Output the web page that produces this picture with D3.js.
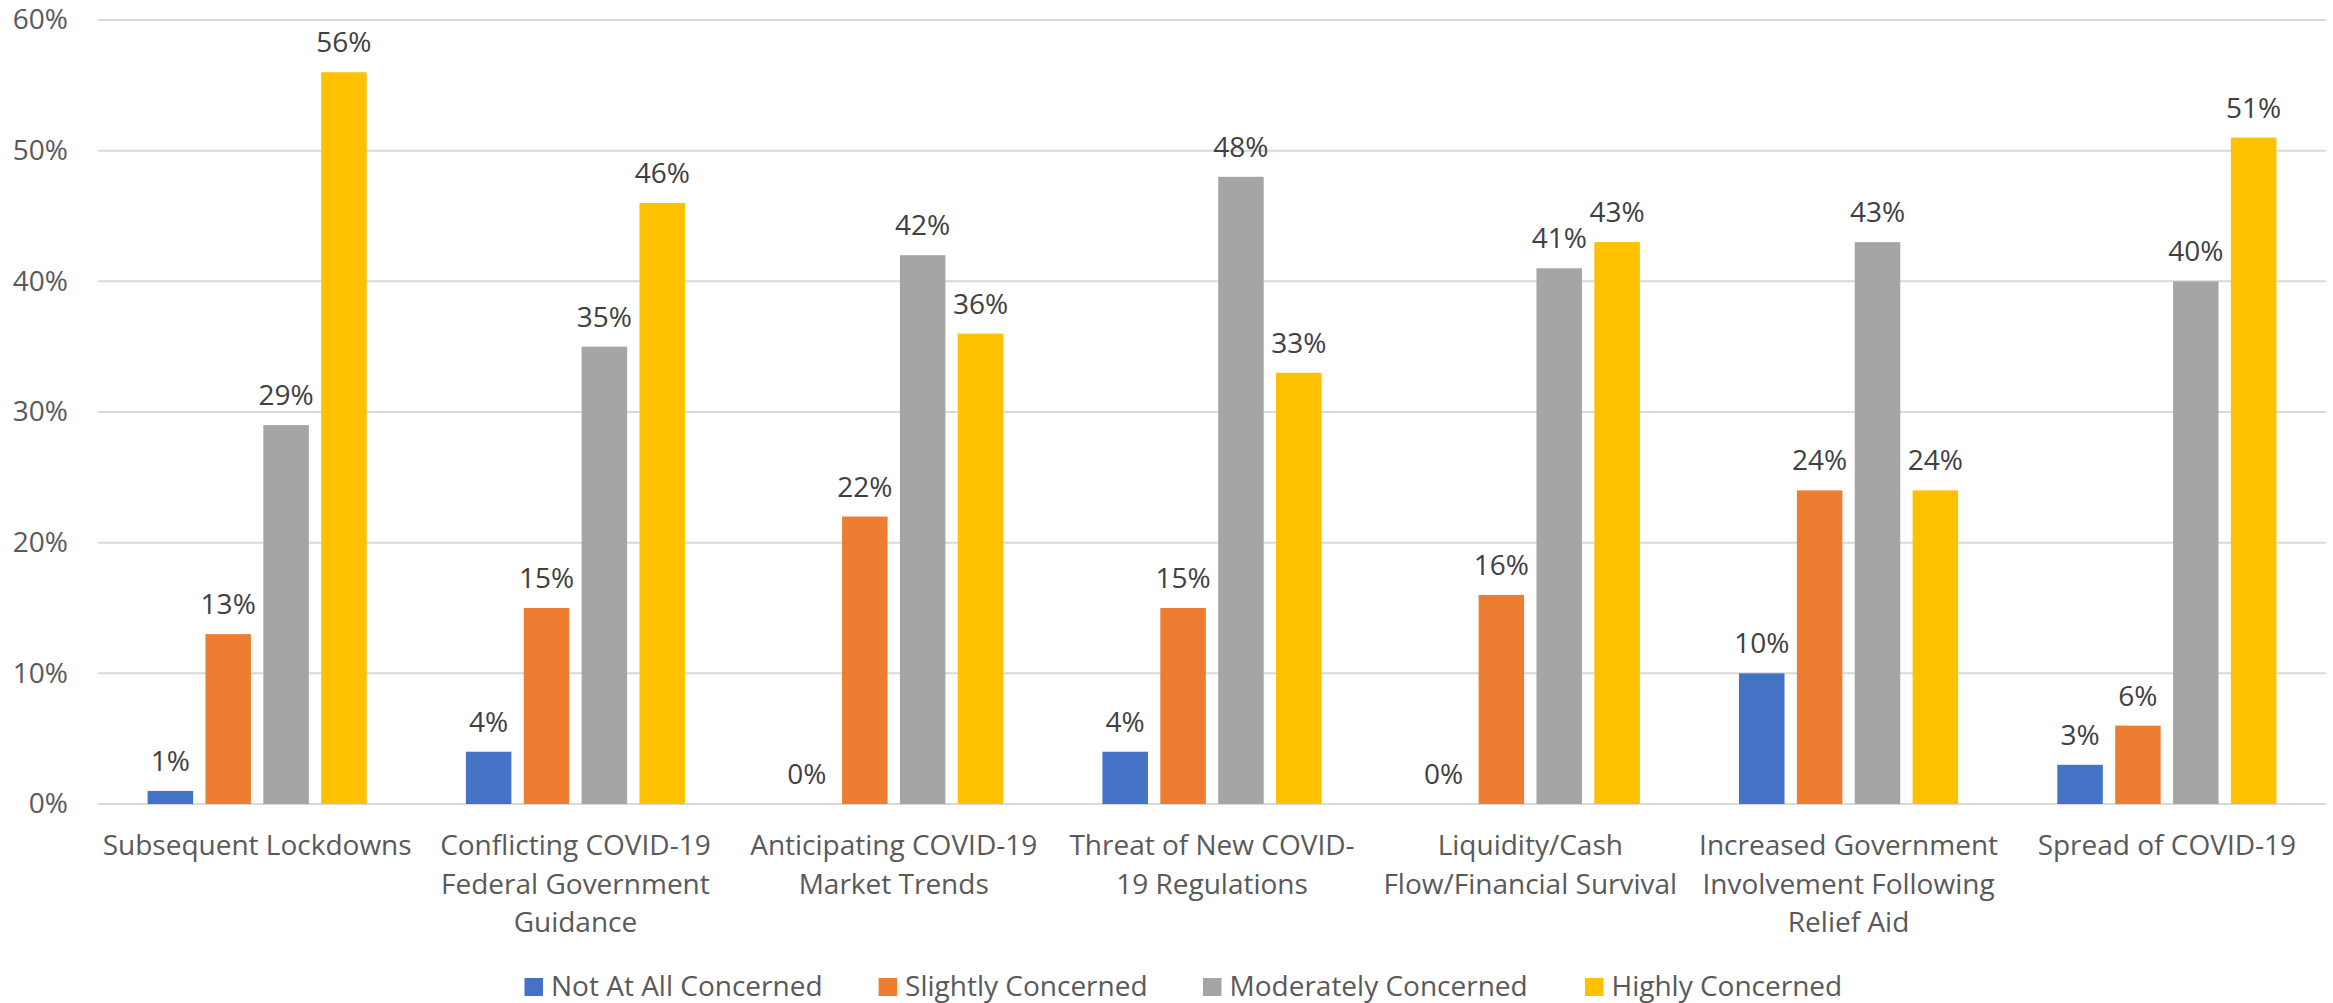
<!DOCTYPE html>
<html>
<head>
<meta charset="utf-8">
<script src="https://cdn.jsdelivr.net/npm/d3@7"></script>
<style>
  html, body { margin: 0; padding: 0; background: #fff; }
  svg { display: block; }
  text { font-family: "Open Sans", "Noto Sans", sans-serif; }
</style>
</head>
<body>
<svg id="chart" width="2333" height="1003"></svg>
<script>
const categories = [
  ["Subsequent Lockdowns"],
  ["Conflicting COVID-19", "Federal Government", "Guidance"],
  ["Anticipating COVID-19", "Market Trends"],
  ["Threat of New COVID-", "19 Regulations"],
  ["Liquidity/Cash", "Flow/Financial Survival"],
  ["Increased Government", "Involvement Following", "Relief Aid"],
  ["Spread of COVID-19"]
];
const seriesNames = ["Not At All Concerned", "Slightly Concerned", "Moderately Concerned", "Highly Concerned"];
const notAtAll   = [1, 4, 0, 4, 0, 10, 3];
const slightly   = [13, 15, 22, 15, 16, 24, 6];
const moderately = [29, 35, 42, 48, 41, 43, 40];
const highly     = [56, 46, 36, 33, 43, 24, 51];
const yTicks = [0, 10, 20, 30, 40, 50, 60];
const colors = ["#4472C4", "#ED7D31", "#A5A5A5", "#FFC000"];

const seriesValues = [notAtAll, slightly, moderately, highly];

const svg = d3.select("#chart");
const plotLeft = 98, plotRight = 2326, plotTop = 20, plotBottom = 804;

const x0 = d3.scaleBand().domain(d3.range(categories.length)).range([plotLeft, plotRight]).paddingInner(0).paddingOuter(0);
const x1 = d3.scaleBand().domain(d3.range(seriesNames.length)).range([0, x0.bandwidth()])
  .paddingInner(0.2137).paddingOuter(0.857);
const y = d3.scaleLinear().domain([0, 60]).range([plotBottom, plotTop]);

// gridlines
svg.append("g").selectAll("line").data(yTicks).join("line")
  .attr("x1", plotLeft).attr("x2", plotRight)
  .attr("y1", d => y(d)).attr("y2", d => y(d))
  .attr("stroke", "#D9D9D9").attr("stroke-width", 2);

// y axis labels
const yAxis = d3.axisLeft(y).tickValues(yTicks).tickFormat(d => d + "%").tickSize(0).tickPadding(0);
const ya = svg.append("g").attr("transform", `translate(${plotLeft - 30},0)`).call(yAxis);
ya.select(".domain").remove();
ya.selectAll("text").attr("fill", "#595959").style("font-size", "28px")
  .style("font-family", '"Open Sans", sans-serif');

// bars
const groups = svg.append("g").selectAll("g").data(categories.map((c, i) => i)).join("g")
  .attr("transform", i => `translate(${x0(i)},0)`);

groups.selectAll("rect").data(i => seriesValues.map((s, k) => ({k, v: s[i]}))).join("rect")
  .attr("x", d => x1(d.k)).attr("width", x1.bandwidth())
  .attr("y", d => y(d.v)).attr("height", d => plotBottom - y(d.v))
  .attr("fill", d => colors[d.k]);

groups.selectAll("text.lbl").data(i => seriesValues.map((s, k) => ({k, v: s[i]}))).join("text")
  .attr("class", "lbl")
  .attr("x", d => x1(d.k) + x1.bandwidth() / 2)
  .attr("y", d => y(d.v) - 20)
  .attr("text-anchor", "middle")
  .attr("fill", "#404040").style("font-size", "28px")
  .text(d => d.v + "%");

// category labels
const xa = svg.append("g");
categories.forEach((lines, i) => {
  const cx = x0(i) + x0.bandwidth() / 2;
  const t = xa.append("text")
    .attr("x", cx)
    .attr("y", 855)
    .attr("text-anchor", "middle")
    .attr("fill", "#595959").style("font-size", "28px");
  lines.forEach((ln, j) => {
    t.append("tspan").attr("x", cx).attr("dy", j === 0 ? 0 : 38.5).text(ln);
  });
});

// legend
const legendX = [524.5, 878.6, 1203, 1585];
const lg = svg.append("g").selectAll("g").data(seriesNames).join("g")
  .attr("transform", (d, k) => `translate(${legendX[k]},0)`);
lg.append("rect").attr("x", 0).attr("y", 978).attr("width", 18.5).attr("height", 18).attr("fill", (d, k) => colors[k]);
lg.append("text").attr("x", 26.5).attr("y", 996).attr("fill", "#595959").style("font-size", "28px").text(d => d);
</script>
</body>
</html>
